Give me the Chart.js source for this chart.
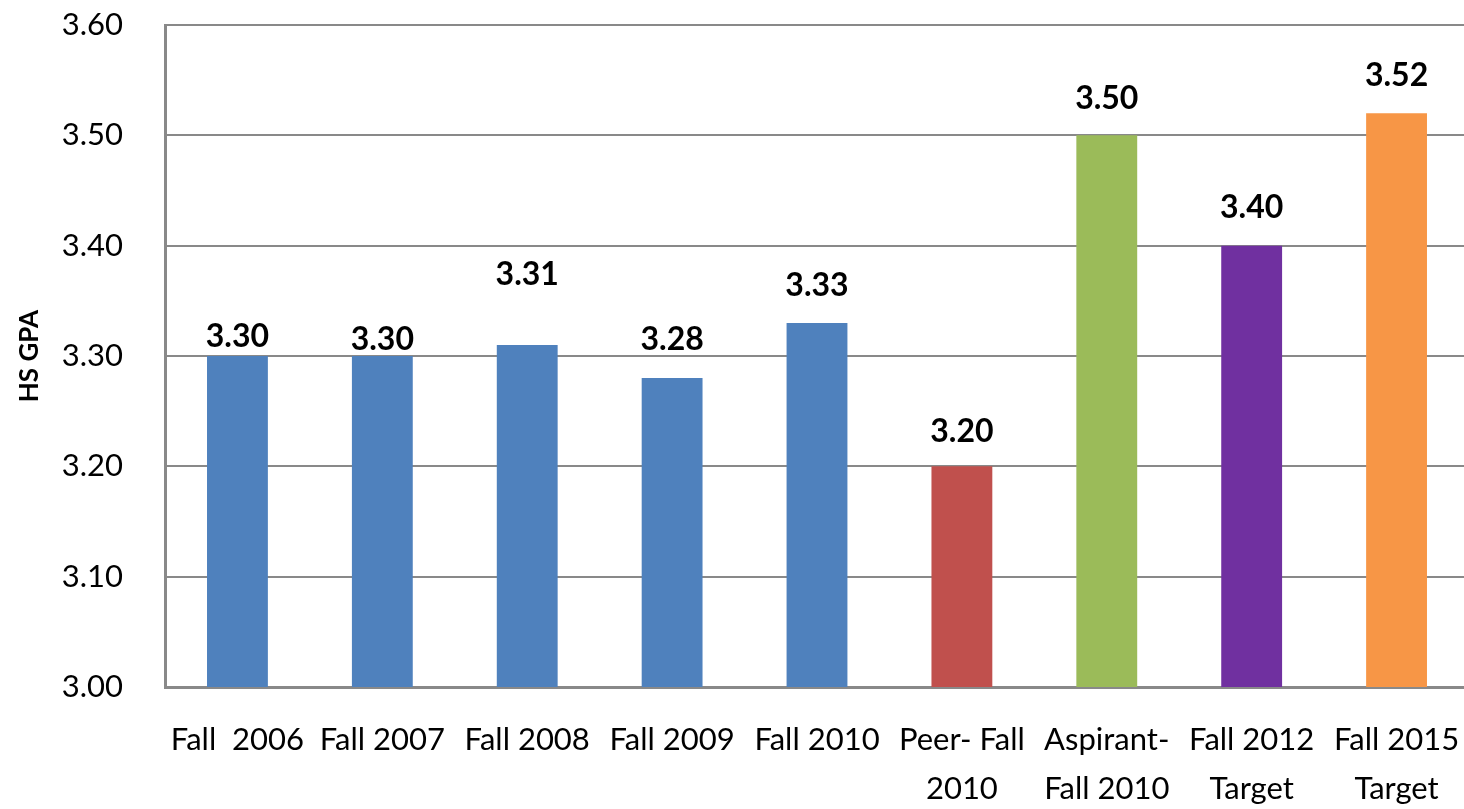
<!DOCTYPE html>
<html>
<head>
<meta charset="utf-8">
<script src="https://cdn.jsdelivr.net/npm/chart.js@4/dist/chart.umd.min.js"></script>
<style>
html,body{margin:0;padding:0;background:#fff;overflow:hidden;width:1464px;height:809px;}
canvas{display:block;}
</style>
</head>
<body>
<canvas id="c" width="1469" height="809"></canvas>
<script>
const categories = [
  "Fall  2006",
  "Fall 2007",
  "Fall 2008",
  "Fall 2009",
  "Fall 2010",
  ["Peer- Fall", "2010"],
  ["Aspirant-", "Fall 2010"],
  ["Fall 2012", "Target"],
  ["Fall 2015", "Target"]
];
const gpaValues = [3.30, 3.30, 3.31, 3.28, 3.33, 3.20, 3.50, 3.40, 3.52];
const barColors = ["#4F81BD","#4F81BD","#4F81BD","#4F81BD","#4F81BD","#C0504D","#9BBB59","#7030A0","#F79646"];
const yMin = 3.00, yMax = 3.60, yStep = 0.10;
const yTitle = "HS GPA";

const FONT = "Lato";
// gap (px) between each value label's baseline and its bar top, as placed in the original
const labelGaps = [9, 6, 60, 28, 27, 24, 26, 28, 27];

const valueLabels = {
  id: 'valueLabels',
  afterDatasetsDraw(chart) {
    const ctx = chart.ctx;
    const meta = chart.getDatasetMeta(0);
    ctx.save();
    ctx.font = "bold 32px " + FONT;
    ctx.fillStyle = "#000";
    ctx.textAlign = "center";
    ctx.textBaseline = "alphabetic";
    meta.data.forEach((bar, i) => {
      const v = chart.data.datasets[0].data[i];
      ctx.fillText(v.toFixed(2), bar.x, bar.y - labelGaps[i]);
    });
    ctx.restore();
  }
};

new Chart(document.getElementById('c'), {
  type: 'bar',
  data: {
    labels: categories,
    datasets: [{
      data: gpaValues,
      backgroundColor: barColors,
      borderWidth: 0,
      barPercentage: 0.42,
      categoryPercentage: 1.0
    }]
  },
  options: {
    responsive: false,
    animation: false,
    devicePixelRatio: 1,
    layout: { padding: { top: 25, right: 0, left: 0, bottom: 0 } },
    plugins: {
      legend: { display: false },
      tooltip: { enabled: false }
    },
    scales: {
      x: {
        grid: { display: false, drawTicks: false },
        border: { display: true, color: "#898989", width: 3 },
        ticks: {
          color: "#000",
          font: { family: FONT, size: 31, lineHeight: 1.58 },
          padding: 29,
          maxRotation: 0,
          autoSkip: false
        },
        afterFit(scale) { scale.height = 122; scale.paddingLeft = 0; scale.paddingRight = 0; }
      },
      y: {
        min: yMin,
        max: yMax,
        grid: { color: "#898989", lineWidth: 2, drawTicks: false },
        border: { display: true, color: "#898989", width: 3 },
        ticks: {
          stepSize: yStep,
          color: "#000",
          font: { family: FONT, size: 31 },
          padding: 42,
          callback: (v) => Number(v).toFixed(2)
        },
        title: {
          display: true,
          text: yTitle,
          color: "#000",
          font: { family: FONT, size: 26, weight: 'bold' },
          padding: { top: 14, bottom: 0 }
        },
        afterFit(scale) { scale.width = 165; scale.paddingTop = 0; scale.paddingBottom = 0; }
      }
    }
  },
  plugins: [valueLabels]
});
</script>
</body>
</html>
